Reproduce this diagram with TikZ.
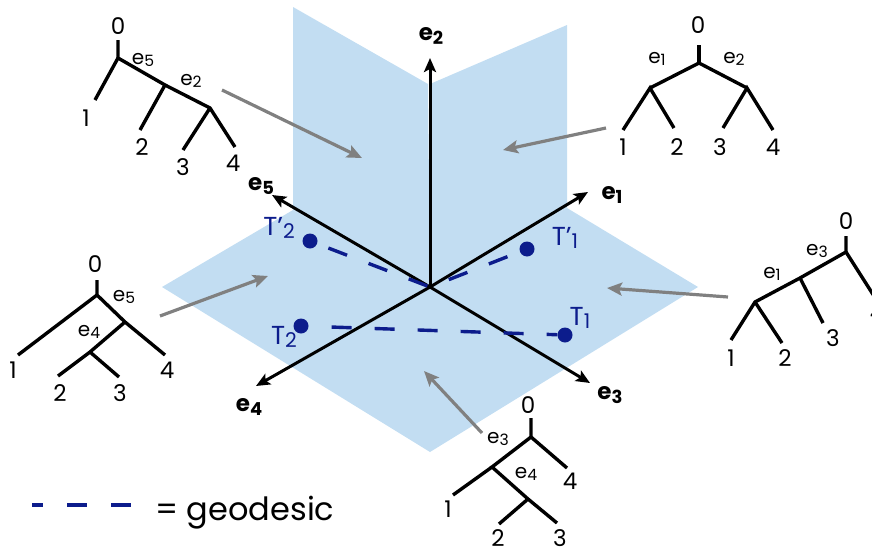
\documentclass[tikz,border=0pt]{standalone}
\usepackage{fontspec}
\usepackage{graphicx}
\setmainfont{Poppins}
\usetikzlibrary{arrows.meta}
\definecolor{planeblue}{RGB}{194,221,242}
\definecolor{geoblue}{RGB}{12,28,140}
\definecolor{pointgray}{RGB}{128,128,128}
\newcommand\ix[1]{\raisebox{-.25ex}{\scalebox{.78}{#1}}}

\begin{document}
\begin{tikzpicture}[x=1pt,y=-1pt,
  axis/.style={line width=3pt,-{Stealth[length=14pt,width=12pt,inset=3pt]}},
  pointer/.style={draw=pointgray,line width=3.2pt,-{Stealth[length=15pt,width=13pt,inset=3pt]}},
  branch/.style={line width=3.4pt},
  geo/.style={draw=geoblue,line width=3.4pt,dash pattern=on 20pt off 23pt,dash phase=20pt},
  pt/.style={circle,fill=geoblue,inner sep=0pt,minimum size=15pt},
  axlab/.style={font=\fontsize{23}{25}\selectfont\bfseries,inner sep=0pt},
  leaf/.style={font=\fontsize{23}{25}\selectfont,inner sep=0pt},
  edgelab/.style={font=\fontsize{20}{22}\selectfont,inner sep=0pt},
  ptlab/.style={text=geoblue,font=\fontsize{26}{28}\selectfont,inner sep=0pt}]
\useasboundingbox (0,0) rectangle (872,554);

% planes
\fill[planeblue] (430,287) -- (293,210) -- (162,287) -- (430,452) -- (698,287) -- (567,208) -- cycle;
\fill[planeblue] (430,287) -- (293,210) -- (293,7) -- (428,84) -- cycle;
\fill[planeblue] (430,287) -- (567,208) -- (567,25) -- (430,84) -- cycle;

% axes
\coordinate (O) at (430,287);
\coordinate (a1) at (588,192);
\coordinate (a2) at (430,58);
\coordinate (a3) at (590,383);
\coordinate (a4) at (256,386);
\coordinate (a5) at (272,195);
\draw[axis] (O) -- (a1);
\draw[axis] (O) -- (a2);
\draw[axis] (O) -- (a3);
\draw[axis] (O) -- (a4);
\draw[axis] (O) -- (a5);
\node[axlab] (l1) at (612,195) {e\ix{1}};
\node[axlab] (l2) at (431,36) {e\ix{2}};
\node[axlab] (l3) at (610,395) {e\ix{3}};
\node[axlab] (l4) at (249,407) {e\ix{4}};
\node[axlab] (l5) at (261,186) {e\ix{5}};

% points and geodesics
\node[pt] (T1) at (565,335) {};
\node[pt] (T2) at (301,326) {};
\node[pt] (T1p) at (527,249) {};
\node[pt] (T2p) at (310,241) {};
\draw[geo] (T2) -- (T1);
\draw[geo,dash phase=31pt] (T2p) -- (O) -- (T1p);
\node[ptlab] at (580,318) {T\ix{1}};
\node[ptlab] at (284,337) {T\ix{2}};
\node[ptlab] at (565,238) {T'\ix{1}};
\node[ptlab] at (279,228) {T'\ix{2}};

% pointers
\coordinate (p1) at (222,90);  \coordinate (q1) at (362,158);
\coordinate (p2) at (606,128); \coordinate (q2) at (503,150);
\coordinate (p3) at (160,316); \coordinate (q3) at (268,276);
\coordinate (p4) at (728,297); \coordinate (q4) at (607,288);
\coordinate (p5) at (482,433); \coordinate (q5) at (424,371);
\draw[pointer] (p1) -- (q1);
\draw[pointer] (p2) -- (q2);
\draw[pointer] (p3) -- (q3);
\draw[pointer] (p4) -- (q4);
\draw[pointer] (p5) -- (q5);

% tree top left
\coordinate (A0) at (118,40);
\coordinate (Ar) at (118,58);
\coordinate (Au) at (165,85);
\coordinate (Av) at (210,108);
\coordinate (A1) at (95,100);
\coordinate (A2) at (140,130);
\coordinate (A3) at (183,150);
\coordinate (A4) at (235,147);
\draw[branch] (A0) -- (Ar) -- (Au) -- (Av) -- (A4);
\draw[branch] (Ar) -- (A1);
\draw[branch] (Au) -- (A2);
\draw[branch] (Av) -- (A3);
\node[leaf] at (118,26) {0};
\node[leaf] at (86,118) {1};
\node[leaf] at (142,147) {2};
\node[leaf] at (183,167) {3};
\node[leaf] at (233,163) {4};
\node[edgelab] at (143,60) {e\ix{5}};
\node[edgelab] at (191,81) {e\ix{2}};

% tree top right
\coordinate (B0) at (699,45);
\coordinate (Br) at (699,63);
\coordinate (Bu) at (650,88);
\coordinate (Bv) at (747,88);
\coordinate (B1) at (623,130);
\coordinate (B2) at (674,128);
\coordinate (B3) at (723,128);
\coordinate (B4) at (773,130);
\draw[branch] (B0) -- (Br);
\draw[branch] (Bu) -- (Br) -- (Bv);
\draw[branch] (B1) -- (Bu) -- (B2);
\draw[branch] (B3) -- (Bv) -- (B4);
\node[leaf] at (698,25) {0};
\node[leaf] at (623,147) {1};
\node[leaf] at (677,147) {2};
\node[leaf] at (720,147) {3};
\node[leaf] at (773,147) {4};
\node[edgelab] at (657,59) {e\ix{1}};
\node[edgelab] at (734,59) {e\ix{2}};

% tree left
\coordinate (C0) at (97,280);
\coordinate (Cr) at (97,295);
\coordinate (Cu) at (125,322);
\coordinate (Cv) at (90,352);
\coordinate (C1) at (18,355);
\coordinate (C2) at (58,376);
\coordinate (C3) at (119,377);
\coordinate (C4) at (165,355);
\draw[branch] (C0) -- (Cr) -- (Cu) -- (C4);
\draw[branch] (Cr) -- (C1);
\draw[branch] (Cu) -- (Cv) -- (C2);
\draw[branch] (Cv) -- (C3);
\node[leaf] at (95,264) {0};
\node[leaf] at (13,370) {1};
\node[leaf] at (60,393) {2};
\node[leaf] at (120,393) {3};
\node[leaf] at (167,370) {4};
\node[edgelab] at (124,297) {e\ix{5}};
\node[edgelab] at (89,332) {e\ix{4}};

% tree right
\coordinate (D0) at (846,236);
\coordinate (Dr) at (846,252);
\coordinate (Du) at (800,278);
\coordinate (Dv) at (755,302);
\coordinate (D1) at (731,340);
\coordinate (D2) at (782,343);
\coordinate (D3) at (823,323);
\coordinate (D4) at (874,296);
\draw[branch] (D0) -- (Dr) -- (Du) -- (Dv) -- (D1);
\draw[branch] (Dr) -- (D4);
\draw[branch] (Du) -- (D3);
\draw[branch] (Dv) -- (D2);
\node[leaf] at (846,221) {0};
\node[leaf] at (731,358) {1};
\node[leaf] at (785,358) {2};
\node[leaf] at (833,338) {3};
\node[leaf] at (877,312) {4};
\node[edgelab] at (817,251) {e\ix{3}};
\node[edgelab] at (772,274) {e\ix{1}};

% tree bottom
\coordinate (E0) at (531,418);
\coordinate (Er) at (531,437);
\coordinate (Eu) at (492,467);
\coordinate (Ev) at (528,499);
\coordinate (E1) at (453,495);
\coordinate (E2) at (499,524);
\coordinate (E3) at (557,523);
\coordinate (E4) at (567,468);
\draw[branch] (E0) -- (Er) -- (Eu) -- (Ev) -- (E3);
\draw[branch] (Er) -- (E4);
\draw[branch] (Eu) -- (E1);
\draw[branch] (Ev) -- (E2);
\node[leaf] at (528,405) {0};
\node[leaf] at (448,509) {1};
\node[leaf] at (498,538) {2};
\node[leaf] at (560,538) {3};
\node[leaf] at (570,481) {4};
\node[edgelab] at (498,439) {e\ix{3}};
\node[edgelab] at (526,474) {e\ix{4}};

% legend
\coordinate (g1) at (32,505);
\coordinate (g2) at (133,505);
\draw[geo,dash pattern=on 20pt off 24pt,dash phase=9pt] (g1) -- (g2);
\node[anchor=base west,inner sep=0pt,font=\fontsize{32}{35}\selectfont] (leg) at (155,520) {= geodesic};
\end{tikzpicture}
\end{document}
